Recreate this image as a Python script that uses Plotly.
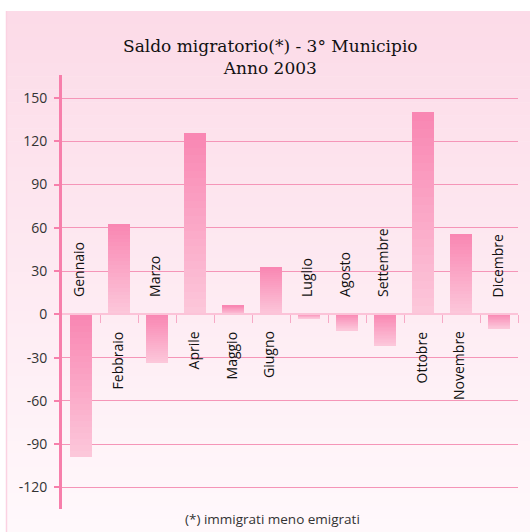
import plotly.graph_objects as go

months = ["Gennaio", "Febbraio", "Marzo", "Aprile", "Maggio", "Giugno",
          "Luglio", "Agosto", "Settembre", "Ottobre", "Novembre", "Dicembre"]
saldo = [-99, 63, -34, 126, 6, 33, -3, -11, -22, 140, 56, -10]
y_ticks = [-120, -90, -60, -30, 0, 30, 60, 90, 120, 150]
y_ticktext = [str(v) for v in y_ticks]

W, H = 530, 532
ML, MR, MT, MB = 62, 12, 75, 23
pw, ph = W - ML - MR, H - MT - MB

def mix(c1, c2, t):
    return "rgb(%d,%d,%d)" % tuple(round(a + (b - a) * t) for a, b in zip(c1, c2))

dark = (249, 134, 178)
light = (252, 200, 219)

fig = go.Figure()
xs = list(range(len(months)))
N = 24
for i in range(N):
    bases, heights, colors = [], [], []
    for v in saldo:
        bases.append(v * i / N)
        heights.append(v / N)
        f = (i + 0.5) / N
        t = 1 - f if v >= 0 else f  # t=0 at top of bar (dark), 1 at bottom
        colors.append(mix(dark, light, t))
    fig.add_trace(go.Bar(x=xs, y=heights, base=bases, width=0.6,
                         marker=dict(color=colors, line=dict(width=0)),
                         showlegend=False, hoverinfo="skip"))

# category labels, rotated, on the opposite side of the zero line
for k, (m, v) in enumerate(zip(months, saldo)):
    fig.add_annotation(x=k - 0.05, y=0, text=m, textangle=-90, showarrow=False,
                       xref="x", yref="y",
                       yanchor="top" if v >= 0 else "bottom",
                       yshift=-15 if v >= 0 else 15,
                       font=dict(family="Open Sans", size=14, color="#111"))

# background panel gradient
def px_to_paper_x(px):
    return (px - ML) / pw
def px_to_paper_y(py):
    return (H - MB - py) / ph

top_c, bot_c = (252, 219, 232), (255, 248, 251)
y_top, y_bot = 11, 532
bands = 40
for b in range(bands):
    y0 = y_top + (y_bot - y_top) * b / bands
    y1 = y_top + (y_bot - y_top) * (b + 1) / bands + 0.6
    fig.add_shape(type="rect", xref="paper", yref="paper", layer="below",
                  x0=px_to_paper_x(6), x1=px_to_paper_x(531),
                  y0=px_to_paper_y(y1), y1=px_to_paper_y(y0),
                  fillcolor=mix(top_c, bot_c, b / (bands - 1)), line=dict(width=0))
fig.add_shape(type="line", xref="paper", yref="paper", layer="below",
              x0=px_to_paper_x(6.5), x1=px_to_paper_x(6.5),
              y0=px_to_paper_y(532), y1=px_to_paper_y(11),
              line=dict(color="#fbd2e2", width=1.5))

# title and footnote
fig.add_annotation(xref="paper", yref="paper", x=px_to_paper_x(270), y=px_to_paper_y(57),
                   text="Saldo migratorio(*) - 3° Municipio<br>Anno 2003", showarrow=False,
                   yanchor="middle", xanchor="center",
                   font=dict(family="DejaVu Serif", size=17, color="#111"))
fig.add_annotation(xref="paper", yref="paper", x=px_to_paper_x(272), y=px_to_paper_y(519),
                   text="(*) immigrati meno emigrati", showarrow=False,
                   yanchor="middle", xanchor="center",
                   font=dict(family="Open Sans", size=13.5, color="#333"))

y_range = [-135, 166]
zero_frac = (0 - y_range[0]) / (y_range[1] - y_range[0])

fig.update_layout(
    width=W, height=H,
    margin=dict(l=ML, r=MR, t=MT, b=MB, pad=0),
    paper_bgcolor="white", plot_bgcolor="rgba(0,0,0,0)",
    barmode="overlay", bargap=0,
    xaxis=dict(range=[-0.5, 11.5], showgrid=False, zeroline=False,
               tickmode="array", tickvals=[k + 0.5 for k in range(12)],
               showticklabels=False, ticks="outside", ticklen=8,
               tickcolor="#f7a9c6", tickwidth=1,
               showline=True, linecolor="#fcc3d8", linewidth=2,
               anchor="free", position=zero_frac, fixedrange=True),
    yaxis=dict(range=y_range, tickmode="array", tickvals=y_ticks, ticktext=y_ticktext,
               showgrid=True, gridcolor="#f595b8", gridwidth=1,
               zeroline=False,
               showline=True, linecolor="#f77fab", linewidth=3,
               ticks="outside", ticklen=5, tickcolor="#f77fab", tickwidth=2,
               tickfont=dict(family="Open Sans", size=14, color="#333"),
               ticklabelstandoff=4),
)

fig.write_html("out.html", config={"displayModeBar": False},
               post_script="document.body.style.margin='0px';")
